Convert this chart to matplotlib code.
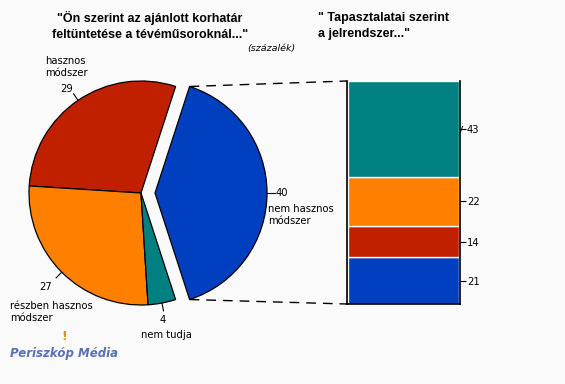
import numpy as np
import matplotlib
matplotlib.use("Agg")
import matplotlib.pyplot as plt

# ---- data ----
pie_labels = ["nem hasznos\nmódszer", "hasznos\nmódszer", "részben hasznos\nmódszer", "nem tudja"]
pie_values = [40, 29, 27, 4]
pie_colors = ["#0040C0", "#C02000", "#FF8000", "#008080"]

bar_labels = ["nem tudja", "túl szigorú", "többnyire\nmegfelelő", "túl engedékeny"]
bar_values = [21, 14, 22, 43]
bar_colors = ["#0040C0", "#C02000", "#FF8000", "#008080"]

title_left = "\"Ön szerint az ajánlott korhatár\nfeltüntetése a tévéműsoroknál...\""
title_right = "\" Tapasztalatai szerint\na jelrendszer...\""
unit_note = "(százalék)"

BG = "#FAFAFA"
W, H = 565, 384
fig = plt.figure(figsize=(W / 100, H / 100), dpi=100, facecolor=BG)
ax = fig.add_axes([0, 0, 1, 1])

def Y(y):
    return H - y

# ---- pie ----
cx, cy, R = 141, Y(193), 112
explode_px = 14
start = -72
wedges, _ = ax.pie(pie_values, colors=pie_colors, startangle=start, counterclock=True,
                   radius=R, center=(cx, cy), explode=[explode_px, 0, 0, 0],
                   wedgeprops=dict(edgecolor="black", linewidth=0.9), frame=True)
ax.set_xlim(0, W)
ax.set_ylim(0, H)
ax.set_aspect("auto")
ax.axis("off")

small = dict(fontsize=7.2, family="DejaVu Sans", color="black")

# leader lines
angles = np.cumsum([0] + pie_values)
for i, v in enumerate(pie_values):
    mid = np.deg2rad(start + (angles[i] + angles[i + 1]) / 2 * 3.6)
    off = explode_px if i == 0 else 0
    ccx = cx + off * np.cos(mid)
    ccy = cy + off * np.sin(mid)
    ex, ey = ccx + R * np.cos(mid), ccy + R * np.sin(mid)
    lx, ly = ccx + (R + 8) * np.cos(mid), ccy + (R + 8) * np.sin(mid)
    ax.plot([ex, lx], [ey, ly], color="black", lw=0.8)

# numeric labels and category texts
ax.text(276, Y(193), str(pie_values[0]), ha="left", va="center", **small)
ax.text(268, Y(215), pie_labels[0], ha="left", va="center", linespacing=1.3, **small)
ax.text(67, Y(89), str(pie_values[1]), ha="center", va="center", **small)
ax.text(45, Y(67), pie_labels[1], ha="left", va="center", linespacing=1.3, **small)
ax.text(46, Y(287), str(pie_values[2]), ha="center", va="center", **small)
ax.text(10, Y(312), pie_labels[2], ha="left", va="center", linespacing=1.3, **small)
ax.text(163, Y(320), str(pie_values[3]), ha="center", va="center", **small)
ax.text(166, Y(335), pie_labels[3], ha="center", va="center", **small)

# ---- bar ----
bx0, bx1, by_top, by_bot = 347, 460, 81, 304
bax = fig.add_axes([bx0 / W, (H - by_bot) / H, (bx1 - bx0) / W, (by_bot - by_top) / H])
bax.patch.set_alpha(0)
bottoms = np.cumsum([0] + bar_values[:-1])
bax.bar([0.5] * len(bar_values), bar_values, bottom=bottoms, width=0.985,
        color=bar_colors, edgecolor=BG, linewidth=1.0)
bax.set_xlim(0, 1)
bax.set_ylim(0, sum(bar_values))
bax.spines["top"].set_visible(False)
for s in ["left", "right", "bottom"]:
    bax.spines[s].set_linewidth(1.2)
bax.set_xticks([])
mids = bottoms + np.array(bar_values) / 2
bax.set_yticks(mids)
bax.set_yticklabels([str(v) for v in bar_values], fontsize=7.2)
bax.yaxis.tick_right()
bax.tick_params(axis="y", direction="out", length=4, width=0.8, pad=1)

label_x = [386, 384, 383, 386]
for m, lab, lxp in zip(mids, bar_labels, label_x):
    ypix = by_bot - (by_bot - by_top) * m / sum(bar_values)
    ax.text(lxp, Y(ypix), lab, ha="left", va="center", linespacing=1.4, **small)

# ---- connecting dashed lines ----
a1 = np.deg2rad(start + 3.6 * pie_values[0])
a0 = np.deg2rad(start)
ecx = cx + explode_px
p_top = (ecx + R * np.cos(a1), cy + R * np.sin(a1))
p_bot = (ecx + R * np.cos(a0), cy + R * np.sin(a0))
ax.plot([p_top[0], bx0], [p_top[1], Y(by_top)], color="black", lw=1, dashes=(7, 5))
ax.plot([p_bot[0], bx0], [p_bot[1], Y(by_bot)], color="black", lw=1, dashes=(7, 5))

# ---- titles ----
ax.text(150, Y(26), title_left, ha="center", va="center", fontsize=9,
        fontweight="bold", family="Liberation Sans", linespacing=1.45)
ax.text(318, Y(26), title_right, ha="left", va="center", fontsize=9,
        fontweight="bold", family="Liberation Sans", linespacing=1.45)
ax.text(271, Y(49), unit_note, ha="center", va="center", fontsize=6.8,
        style="italic", family="DejaVu Sans")

# ---- logo ----
ax.text(64, Y(337), "!", ha="center", va="center", fontsize=9, fontweight="bold",
        color="#E09010", family="DejaVu Sans")
ax.text(10, Y(354), "Periszkóp Média", ha="left", va="center", fontsize=8.5,
        style="italic", fontweight="bold", color="#5870B8", family="DejaVu Sans")

fig.savefig("out.png", dpi=100, facecolor=BG)
